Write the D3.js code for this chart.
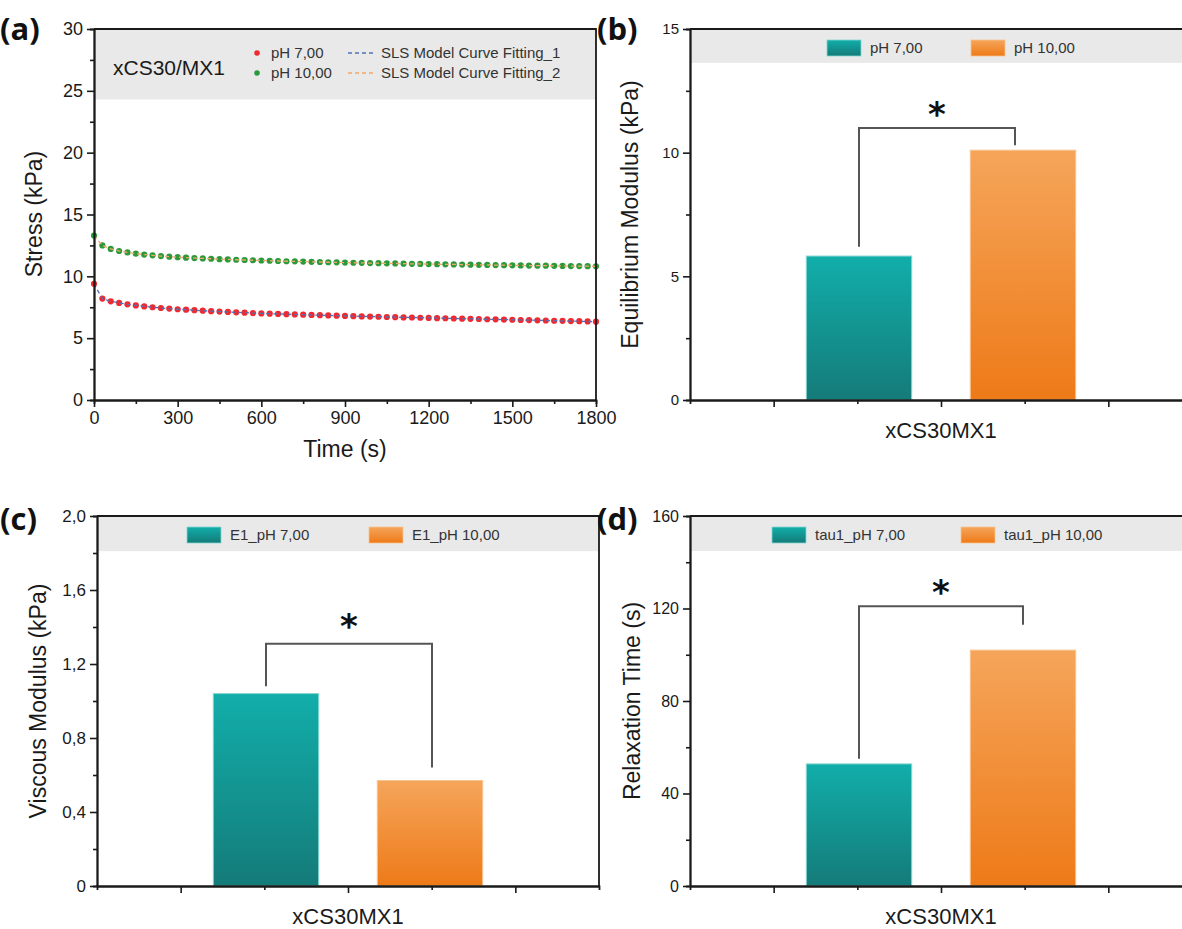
<!DOCTYPE html>
<html>
<head>
<meta charset="utf-8">
<script src="https://cdn.jsdelivr.net/npm/d3@7"></script>
<style>
  body { margin: 0; background: #fff; }
</style>
</head>
<body>
<svg id="fig" width="1182" height="929"></svg>
<script>
// ---- panel (a): stress relaxation ----
var times = [0, 30, 60, 90, 120, 150, 180, 210, 240, 270, 300, 330, 360, 390, 420, 450, 480, 510, 540, 570,
    600, 630, 660, 690, 720, 750, 780, 810, 840, 870, 900, 930, 960, 990, 1020, 1050, 1080, 1110, 1140, 1170,
    1200, 1230, 1260, 1290, 1320, 1350, 1380, 1410, 1440, 1470, 1500, 1530, 1560, 1590, 1620, 1650, 1680, 1710,
    1740, 1770, 1800];
var stressPH7 = [9.40, 8.20, 7.98, 7.85, 7.74, 7.65, 7.57, 7.50, 7.44, 7.39, 7.34, 7.30, 7.26, 7.22, 7.18, 7.15,
    7.12, 7.09, 7.06, 7.03, 7.00, 6.98, 6.96, 6.94, 6.92, 6.90, 6.88, 6.86, 6.84, 6.82, 6.80, 6.78, 6.76, 6.75,
    6.73, 6.71, 6.70, 6.68, 6.67, 6.65, 6.64, 6.62, 6.61, 6.59, 6.58, 6.56, 6.55, 6.53, 6.52, 6.50, 6.49, 6.47,
    6.46, 6.44, 6.43, 6.41, 6.40, 6.38, 6.37, 6.35, 6.33];
var stressPH10 = [13.30, 12.50, 12.22, 12.05, 11.93, 11.84, 11.76, 11.70, 11.64, 11.59, 11.55, 11.51, 11.48,
    11.45, 11.42, 11.39, 11.37, 11.34, 11.32, 11.30, 11.28, 11.26, 11.24, 11.22, 11.21, 11.19, 11.17, 11.16,
    11.14, 11.13, 11.11, 11.10, 11.09, 11.07, 11.06, 11.05, 11.04, 11.02, 11.01, 11.00, 10.99, 10.98, 10.97,
    10.96, 10.95, 10.94, 10.93, 10.92, 10.91, 10.90, 10.89, 10.88, 10.87, 10.86, 10.86, 10.85, 10.84, 10.83,
    10.83, 10.82, 10.81];
var timeTicks = [0, 300, 600, 900, 1200, 1500, 1800];
var stressTicks = [0, 5, 10, 15, 20, 25, 30];
var seriesNames = ["pH 7,00", "pH 10,00"];
var fitNames = ["SLS Model Curve Fitting_1", "SLS Model Curve Fitting_2"];

// ---- panels (b)-(d): bar values ----
var category = "xCS30MX1";
var eqModulus = [5.82, 10.1];
var viscModulus = [1.04, 0.57];
var relaxTime = [52.8, 102];
var legendB = ["pH 7,00", "pH 10,00"];
var legendC = ["E1_pH 7,00", "E1_pH 10,00"];
var legendD = ["tau1_pH 7,00", "tau1_pH 10,00"];
var ticksB = [0, 5, 10, 15];
var ticksC = [0, 0.4, 0.8, 1.2, 1.6, 2.0];
var ticksD = [0, 40, 80, 120, 160];

var FONT = '"Liberation Sans", Arimo, Arial, sans-serif';
var svg = d3.select("#fig");
var defs = svg.append("defs");

function gradient(id, top, bottom) {
    var g = defs.append("linearGradient").attr("id", id)
        .attr("x1", 0).attr("y1", 0).attr("x2", 0).attr("y2", 1);
    g.append("stop").attr("offset", "0%").attr("stop-color", top);
    g.append("stop").attr("offset", "100%").attr("stop-color", bottom);
}
gradient("teal", "#12aeaa", "#147b79");
gradient("orange", "#f5a55a", "#ee7a18");
var fills = ["url(#teal)", "url(#orange)"];
var edges = ["#86d6d2", "#f8c38f"];

var comma = function (d) { return d === 0 ? "0" : d3.format(".1f")(d).replace(".", ","); };

function styleAxis(g, fs) {
    g.attr("font-family", FONT);
    g.select(".domain").attr("stroke", "#1a1a1a").attr("stroke-width", 1.8);
    g.selectAll(".tick line").attr("stroke", "#1a1a1a").attr("stroke-width", 1.6);
    g.selectAll(".tick text").style("font-size", fs + "px").attr("fill", "#1a1a1a");
}

function frame(l, r, t, b) {
    svg.append("path")
        .attr("d", "M" + l + "," + t + "H" + r + "V" + b)
        .attr("fill", "none").attr("stroke", "#1a1a1a").attr("stroke-width", 1.8);
}

function panelLetter(txt, x, y) {
    svg.append("text").attr("x", x).attr("y", y).text(txt)
        .style("font-family", "'Open Sans', 'Noto Sans', sans-serif")
        .style("font-weight", "bold").style("font-size", "31px").attr("fill", "#111");
}

function yTitle(txt, x, cy) {
    svg.append("text").attr("transform", "translate(" + x + "," + cy + ") rotate(-90)")
        .attr("text-anchor", "middle").attr("dy", "0.35em")
        .style("font-family", FONT).style("font-size", "23px").attr("fill", "#1a1a1a").text(txt);
}

// ================= panel (a) =================
var pa = { l: 94, r: 596, t: 29, b: 400 };
var xA = d3.scaleLinear().domain([0, 1800]).range([pa.l, pa.r]);
var yA = d3.scaleLinear().domain([0, 30]).range([pa.b, pa.t]);

svg.append("rect").attr("x", pa.l).attr("y", yA(30))
    .attr("width", pa.r - pa.l).attr("height", yA(24.3) - yA(30)).attr("fill", "#e9e9e9");

var seriesA = [stressPH7, stressPH10];
var dotColors = ["#ee2a30", "#2c9a3a"];
var fitColors = ["#4f72b8", "#f2a86a"];

var line = d3.line().x(function (d, i) { return xA(times[i]); }).y(function (d) { return yA(d); });
seriesA.forEach(function (s, k) {
    svg.append("g").selectAll("circle").data(s).enter().append("circle")
        .attr("cx", function (d, i) { return xA(times[i]); })
        .attr("cy", function (d) { return yA(d); })
        .attr("r", 3.1).attr("fill", dotColors[k]);
    svg.append("path").datum(s).attr("d", line).attr("fill", "none")
        .attr("stroke", fitColors[k]).attr("stroke-width", 1.3).attr("stroke-dasharray", "4,3");
});

var axA = svg.append("g").attr("transform", "translate(0," + pa.b + ")")
    .call(d3.axisBottom(xA).tickValues(timeTicks).tickSize(7).tickSizeOuter(0).tickPadding(4)
        .tickFormat(d3.format("d")));
styleAxis(axA, 18);
var axAm = svg.append("g").attr("transform", "translate(0," + pa.b + ")")
    .call(d3.axisBottom(xA).tickValues(d3.range(150, 1800, 300)).tickSize(4).tickFormat(""));
styleAxis(axAm, 18);
var ayA = svg.append("g").attr("transform", "translate(" + pa.l + ",0)")
    .call(d3.axisLeft(yA).tickValues(stressTicks).tickSize(7).tickSizeOuter(0).tickPadding(4)
        .tickFormat(d3.format("d")));
styleAxis(ayA, 18);
var ayAm = svg.append("g").attr("transform", "translate(" + pa.l + ",0)")
    .call(d3.axisLeft(yA).tickValues(d3.range(2.5, 30, 5)).tickSize(4).tickFormat(""));
styleAxis(ayAm, 18);
frame(pa.l, pa.r, pa.t, pa.b);

svg.append("text").attr("x", (pa.l + pa.r) / 2).attr("y", 457).attr("text-anchor", "middle")
    .style("font-family", FONT).style("font-size", "23px").attr("fill", "#1a1a1a").text("Time (s)");
yTitle("Stress (kPa)", 34, 214);

// legend (a)
svg.append("text").attr("x", 113).attr("y", 75).style("font-family", FONT)
    .style("font-size", "21px").attr("fill", "#1a1a1a").text("xCS30/MX1");
seriesNames.forEach(function (n, k) {
    var yy = 53 + k * 20;
    svg.append("circle").attr("cx", 257).attr("cy", yy).attr("r", 2.8).attr("fill", dotColors[k]);
    svg.append("text").attr("x", 271).attr("y", yy + 5).style("font-family", FONT)
        .style("font-size", "15px").attr("fill", "#333").text(n);
    svg.append("line").attr("x1", 348).attr("x2", 376).attr("y1", yy).attr("y2", yy)
        .attr("stroke", fitColors[k]).attr("stroke-width", 1.5).attr("stroke-dasharray", "4,3");
    svg.append("text").attr("x", 381).attr("y", yy + 5).style("font-family", FONT)
        .style("font-size", "15px").attr("fill", "#333").text(fitNames[k]);
});
panelLetter("(a)", 0, 40);

// ================= bar panels =================
function barPanel(o) {
    var x = d3.scaleLinear().domain([-0.5, 2.5]).range([o.l, o.l + 502]);
    var y = d3.scaleLinear().domain([0, o.max]).range([o.b, o.t]);
    var offs = [-0.49, 0.49], w = 0.63;

    svg.append("rect").attr("x", o.l).attr("y", o.t)
        .attr("width", 502).attr("height", y(o.band) - o.t).attr("fill", "#e9e9e9");

    svg.append("g").selectAll("rect").data(o.values).enter().append("rect")
        .attr("x", function (d, i) { return x(1 + offs[i] - w / 2); })
        .attr("width", x(w) - x(0))
        .attr("y", function (d) { return y(d); })
        .attr("height", function (d) { return o.b - y(d); })
        .attr("fill", function (d, i) { return fills[i]; })
        .attr("stroke", function (d, i) { return edges[i]; }).attr("stroke-width", 1);

    // significance bracket
    var xl = x(1 + offs[0]), xr = x(1 + offs[1]) + o.rShift;
    svg.append("path")
        .attr("d", "M" + xl + "," + y(o.brL) + "V" + y(o.brTop) + "H" + xr + "V" + y(o.brR))
        .attr("fill", "none").attr("stroke", "#555").attr("stroke-width", 2);
    svg.append("text").attr("x", (xl + xr) / 2).attr("y", y(o.star) + 17)
        .attr("text-anchor", "middle").style("font-family", "'DejaVu Sans', sans-serif")
        .style("font-weight", "bold").style("font-size", "34px").attr("fill", "#111").text("*");

    var ax = svg.append("g").attr("transform", "translate(0," + o.b + ")")
        .call(d3.axisBottom(x).tickValues([0, 1, 2]).tickSize(7).tickSizeOuter(0).tickFormat(""));
    styleAxis(ax, 16);
    var axm = svg.append("g").attr("transform", "translate(0," + o.b + ")")
        .call(d3.axisBottom(x).tickValues([0.5, 1.5]).tickSize(4).tickFormat(""));
    styleAxis(axm, 16);
    var ay = svg.append("g").attr("transform", "translate(" + o.l + ",0)")
        .call(d3.axisLeft(y).tickValues(o.ticks).tickSize(7).tickSizeOuter(0).tickPadding(4).tickFormat(o.fmt));
    styleAxis(ay, o.fs);
    var aym = svg.append("g").attr("transform", "translate(" + o.l + ",0)")
        .call(d3.axisLeft(y).tickValues(o.minor).tickSize(4).tickFormat(""));
    styleAxis(aym, o.fs);
    frame(o.l, o.l + 502, o.t, o.b);

    svg.append("text").attr("x", x(1)).attr("y", o.b + 38).attr("text-anchor", "middle")
        .style("font-family", FONT).style("font-size", "22px").attr("fill", "#1a1a1a").text(category);
    yTitle(o.title, o.titleX, (o.t + o.b) / 2);

    // legend
    o.legend.forEach(function (n, i) {
        var lx = o.legX[i];
        svg.append("rect").attr("x", lx).attr("y", o.t + 11).attr("width", 34).attr("height", 16)
            .attr("fill", fills[i]).attr("stroke", edges[i]).attr("stroke-width", 0.8);
        svg.append("text").attr("x", lx + 43).attr("y", o.t + 24).style("font-family", FONT)
            .style("font-size", "15px").attr("fill", "#333").text(n);
    });
}

barPanel({ l: 690, t: 29, b: 400, max: 15, band: 13.63, values: eqModulus, ticks: ticksB,
    minor: [2.5, 7.5, 12.5], fmt: d3.format("d"), fs: 15, legend: legendB, legX: [827, 971],
    title: "Equilibrium Modulus (kPa)", titleX: 630, brL: 6.2, brTop: 11.0, brR: 10.3, star: 11.75, rShift: -8 });
barPanel({ l: 97, t: 516, b: 886, max: 2.0, band: 1.81, values: viscModulus, ticks: ticksC,
    minor: [0.2, 0.6, 1.0, 1.4, 1.8], fmt: comma, fs: 17, legend: legendC, legX: [187, 369],
    title: "Viscous Modulus (kPa)", titleX: 38, brL: 1.08, brTop: 1.31, brR: 0.64, star: 1.43, rShift: 2 });
barPanel({ l: 690, t: 516, b: 886, max: 160, band: 144.9, values: relaxTime, ticks: ticksD,
    minor: [20, 60, 100, 140], fmt: d3.format("d"), fs: 16, legend: legendD, legX: [772, 961],
    title: "Relaxation Time (s)", titleX: 632, brL: 55, brTop: 121, brR: 113, star: 129.5, rShift: 0 });

panelLetter("(b)", 597, 40);
panelLetter("(c)", 0, 530);
panelLetter("(d)", 597, 530);
</script>
</body>
</html>
